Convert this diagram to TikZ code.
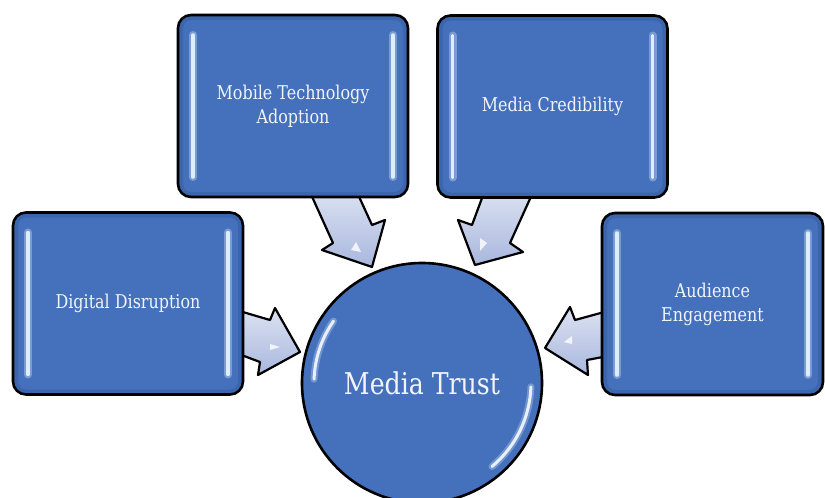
\documentclass[tikz,border=0pt]{standalone}
\usepackage{fontspec}
\setmainfont{DejaVu Serif}[FakeStretch=0.84]
\usetikzlibrary{calc}
\definecolor{boxblue}{HTML}{4571BC}
\definecolor{edgeblue}{HTML}{2A4F8F}
\definecolor{arrowtop}{HTML}{DCE2F2}
\definecolor{arrowbot}{HTML}{A9B7DE}
\definecolor{glint}{HTML}{DDEEFF}
\definecolor{labelwhite}{HTML}{F2F4FA}
\tikzset{
  box/.style={draw=black, line width=2.6pt, fill=boxblue, rounded corners=13pt,
    minimum width=230pt, minimum height=182pt, text=labelwhite,
    font=\fontsize{19}{24}\selectfont, align=center, inner sep=0pt,
    path picture={
      \draw[edgeblue, opacity=0.35, line width=10pt, rounded corners=13pt]
        (path picture bounding box.south west) rectangle (path picture bounding box.north east);
      \draw[glint, opacity=0.35, line width=8pt, line cap=round]
        ($(path picture bounding box.north west)+(15,20)$) -- ($(path picture bounding box.south west)+(15,-20)$);
      \draw[glint, opacity=0.35, line width=8pt, line cap=round]
        ($(path picture bounding box.north east)+(-15,20)$) -- ($(path picture bounding box.south east)+(-15,-20)$);
      \draw[glint, line width=3.5pt, line cap=round]
        ($(path picture bounding box.north west)+(15,20)$) -- ($(path picture bounding box.south west)+(15,-20)$);
      \draw[glint, line width=3.5pt, line cap=round]
        ($(path picture bounding box.north east)+(-15,20)$) -- ($(path picture bounding box.south east)+(-15,-20)$);
    }},
  hub/.style={circle, draw=black, line width=2.6pt, fill=boxblue, minimum size=240pt,
    text=labelwhite, font=\fontsize{30}{36}\selectfont, inner sep=0pt},
  blockarrow/.style={draw=black, line width=2.2pt, line join=round,
    top color=arrowtop, bottom color=arrowbot},
  hublight/.style={white, opacity=0.85, line width=3pt, line cap=round},
  hubglow/.style={glint, opacity=0.3, line width=7pt, line cap=round},
  arrowglint/.style={fill=white, opacity=0.8},
}
\begin{document}
\begin{tikzpicture}[x=1pt,y=-1pt]
\useasboundingbox (0,0) rectangle (825,498);
\fill[white] (0,0) rectangle (825,498);

% block arrows (drawn below the boxes)
\draw[blockarrow] (236,310) -- (270,320) -- (275,308) -- (300,352) -- (258,375) -- (260,362) -- (236,353) -- cycle;
\draw[blockarrow] (608,311) -- (575,320) -- (570,307) -- (545,348) -- (588,375) -- (587,360) -- (608,356) -- cycle;
\draw[blockarrow] (309,190) -- (356,190) -- (372,225) -- (385,220) -- (372,267) -- (322,250) -- (333,243) -- cycle;
\draw[blockarrow] (485,190) -- (534,190) -- (510,243) -- (523,252) -- (475,265) -- (458,220) -- (472,225) -- cycle;
\fill[arrowglint] (270,344) -- (280,347) -- (270,350) -- cycle;
\fill[arrowglint] (572,336) -- (564,342) -- (572,344) -- cycle;
\fill[arrowglint] (356,242) -- (361,252) -- (351,250) -- cycle;
\fill[arrowglint] (480,238) -- (487,243) -- (480,251) -- cycle;

% boxes
\node[box] (mob) at (293,106) {Mobile Technology\\Adoption};
\node[box] (cred) at (552.5,106.5) {Media Credibility};
\node[box] (dd) at (128,303.5) {Digital Disruption};
\node[box, minimum width=221pt] (ae) at (712.5,304) {Audience\\Engagement};

% hub
\node[hub] (mt) at (422,383) {Media Trust};
\draw[hubglow] ($(mt.center)+(-145:108)$) arc[start angle=-145, end angle=-178, radius=108];
\draw[hubglow] ($(mt.center)+(2:109)$) arc[start angle=2, end angle=50, radius=109];
\draw[hublight] ($(mt.center)+(-145:108)$) arc[start angle=-145, end angle=-178, radius=108];
\draw[hublight] ($(mt.center)+(2:109)$) arc[start angle=2, end angle=50, radius=109];
\end{tikzpicture}
\end{document}
